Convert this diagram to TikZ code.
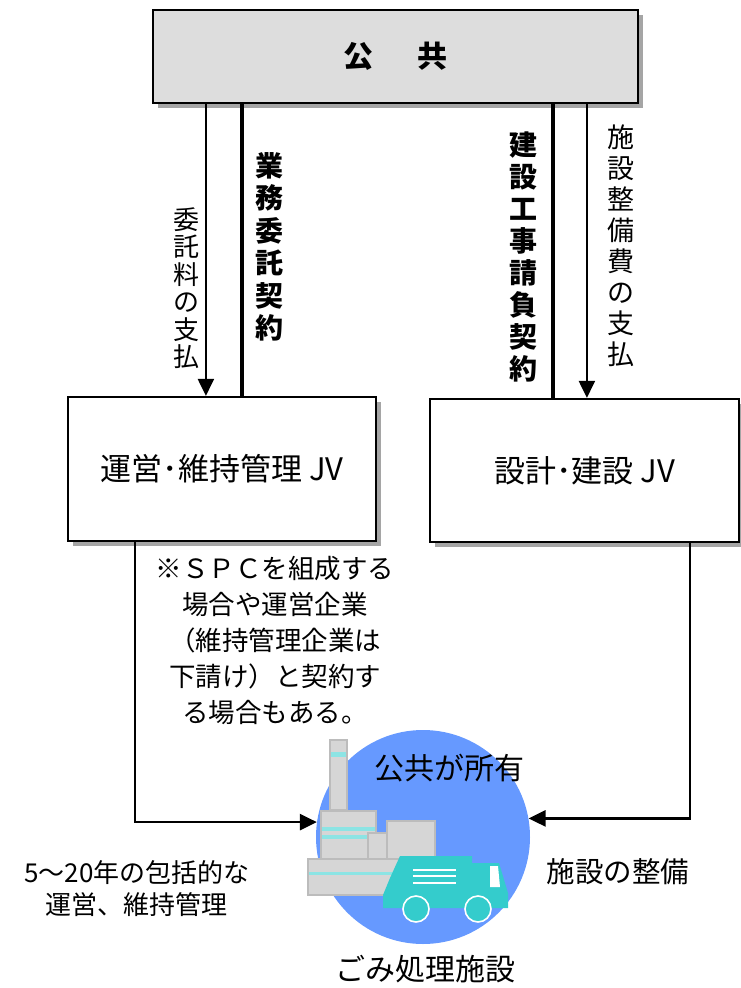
\documentclass[tikz,border=0pt]{standalone}
\usepackage{fontspec}
\setmainfont{Noto Sans CJK JP}
\usetikzlibrary{arrows.meta,shadows,calc}

\definecolor{panelgray}{RGB}{221,221,221}
\definecolor{shadowgray}{RGB}{165,165,165}
\definecolor{globeblue}{RGB}{102,153,255}
\definecolor{plantgray}{RGB}{214,214,214}
\definecolor{plantedge}{RGB}{188,188,188}
\definecolor{stripecyan}{RGB}{140,228,228}
\definecolor{truckteal}{RGB}{52,204,204}

\newcommand{\fs}[1]{\fontsize{#1}{1.2\dimexpr #1pt\relax}\selectfont}

\begin{document}
\begin{tikzpicture}[x=1pt,y=-1pt,
  panel/.style={draw, line width=2.2pt, fill=white, inner sep=0pt,
    drop shadow={shadow xshift=5pt, shadow yshift=-5pt, fill=shadowgray, opacity=1}},
  vlab/.style={align=center, inner sep=0pt},
  txt/.style={align=center, inner sep=0pt},
  payarrow/.style={line width=2.2pt, -{Triangle[length=17pt,width=16pt]}},
  contract/.style={line width=4.5pt},
  link/.style={line width=2.6pt, -{Triangle[length=17pt,width=16pt]}},
  plant/.style={fill=plantgray, draw=plantedge, line width=1.6pt},
  stripe/.style={fill=stripecyan},
  cargoline/.style={draw=white, line width=1.6pt}
]
\useasboundingbox (0,0) rectangle (740,988);

% --- organisation boxes ---
\node[panel, fill=panelgray, minimum width=485pt, minimum height=93pt]
  (pub) at (395.5,56.5) {\fs{30}\bfseries 公\hspace{44pt}共};
\node[panel, minimum width=308pt, minimum height=144pt]
  (ops) at (222,469) {\fs{31}運営･維持管理 JV};
\node[panel, minimum width=309pt, minimum height=143pt]
  (des) at (584.5,470.5) {\fs{31}設計･建設 JV};

% --- connectors between the public body and the JVs ---
\coordinate (pL) at ([xshift=139pt]ops.north west);
\coordinate (cL) at ([xshift=175pt]ops.north west);
\coordinate (cR) at ([xshift=124pt]des.north west);
\coordinate (pR) at ([xshift=158pt]des.north west);
\draw[payarrow] (pL |- pub.south) -- (pL);
\draw[contract] (cL |- pub.south) -- (cL);
\draw[contract] (cR |- pub.south) -- (cR);
\draw[payarrow] (pR |- pub.south) -- (pR);

% vertical labels
\node[vlab, font=\fontsize{26}{27.5}\selectfont] (feeL) at (186,288)
  {委\\託\\料\\の\\支\\払};
\node[vlab, font=\fontsize{28}{32.5}\selectfont\bfseries] (conL) at (269,247)
  {業\\務\\委\\託\\契\\約};
\node[vlab, font=\fontsize{28}{32}\selectfont\bfseries] (conR) at (523,257)
  {建\\設\\工\\事\\請\\負\\契\\約};
\node[vlab, font=\fontsize{27}{31}\selectfont] (feeR) at (621,246)
  {施\\設\\整\\備\\費\\の\\支\\払};

% --- facility ---
\node[circle, fill=globeblue, minimum size=214pt, inner sep=0pt] (globe) at (423,837) {};

% plant building
\filldraw[plant] (330,740) rectangle (347,810);
\fill[stripe] (331,752) rectangle (346,757);
\filldraw[plant] (308,859) rectangle (405,895);
\fill[stripe] (309,872) rectangle (404,875);
\filldraw[plant] (321,811) rectangle (376,859);
\fill[stripe] (322,827) rectangle (375,831);
\fill[stripe] (322,835) rectangle (375,839);
\filldraw[plant] (387,821) rectangle (435,859);
\filldraw[plant] (368,833) rectangle (387,859);

% garbage truck
\fill[truckteal] (383,908) -- (383,895) -- (390,878) -- (400,856) -- (472,856)
  -- (472,863) -- (499,863) -- (508,893) -- (508,908) -- cycle;
\fill[white] (490,866) -- (498,866) -- (500,887) -- (490,887) -- cycle;
\draw[cargoline] (413,870) -- (456,870);
\draw[cargoline] (413,876) -- (456,876);
\draw[cargoline] (413,883) -- (456,883);
\filldraw[fill=truckteal, draw=white, line width=1.6pt] (416,909) circle[radius=13pt];
\filldraw[fill=truckteal, draw=white, line width=1.6pt] (478,909) circle[radius=13pt];

\node[txt, font=\fs{30}] (own) at (449,768) {公共が所有};
\node[txt, font=\fs{30}] (fac) at (425,969) {ごみ処理施設};

% --- connectors from the JVs to the facility ---
\coordinate (oL) at ([xshift=68pt]ops.south west);
\coordinate (dR) at ([xshift=261pt]des.south west);
\draw[link] (oL) |- (globe.172.5);
\draw[link] (dR) |- (globe.10.8);

% --- notes ---
\node[txt, font=\fontsize{26.5}{36}\selectfont] (note) at (275,640)
  {※ＳＰＣを組成する\\場合や運営企業\\（維持管理企業は\\下請け）と契約す\\る場合もある。};
\node[txt, font=\fontsize{26}{32}\selectfont] (term) at (137,889)
  {5〜20年の包括的な\\運営、維持管理};
\node[txt, font=\fs{28.5}] (maint) at (618,872) {施設の整備};
\end{tikzpicture}
\end{document}
